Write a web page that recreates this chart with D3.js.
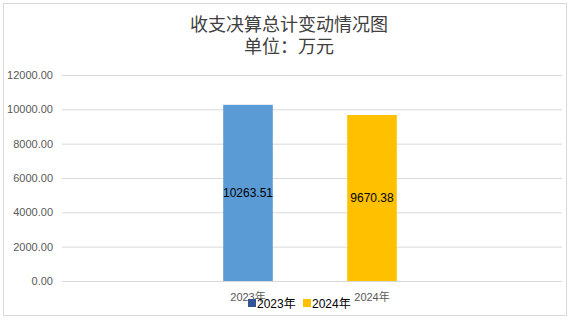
<!DOCTYPE html>
<html>
<head>
<meta charset="utf-8">
<script src="https://cdn.jsdelivr.net/npm/d3@7"></script>
<style>
  body { margin: 0; background: #fff; }
  text { font-family: "Liberation Sans", Arial, "Noto Sans CJK SC", sans-serif; }
</style>
</head>
<body>
<div id="chart"></div>
<script>
// data
const categories = ["", "2023年", "2024年", " "]
const series = ["2023年", "2024年"]
const values = [10263.51, 9670.38]
const yTicks = [0, 2000, 4000, 6000, 8000, 10000, 12000]
const titleLines = ["收支决算总计变动情况图", "单位：万元"]

const svgWidth = 571, svgHeight = 321
const margin = { top: 75, right: 9, bottom: 40, left: 62 }
const width = svgWidth - margin.left - margin.right
const height = svgHeight - margin.top - margin.bottom

const barColors = ["#5B9BD5", "#FFC000"]
const legendColors = ["#2F5597", "#FFC000"]

const svg = d3.select("#chart")
    .append("svg")
    .attr("width", svgWidth)
    .attr("height", svgHeight)

// outer frame
svg.append("rect")
    .attr("x", 3.5).attr("y", 3.5)
    .attr("width", 563).attr("height", 312)
    .attr("fill", "#fff")
    .attr("stroke", "#d9d9d9")

// title
svg.selectAll(".title")
    .data(titleLines)
    .enter()
    .append("text")
    .attr("x", 289)
    .attr("y", (d, i) => 31 + i * 22)
    .attr("text-anchor", "middle")
    .attr("font-size", 18)
    .attr("fill", "#404040")
    .text(d => d)

const chartGroup = svg.append("g")
    .attr("transform", `translate(${margin.left}, ${margin.top})`)

const xScale = d3.scaleBand()
    .domain(categories)
    .range([0, width - 4])
    .paddingInner(0.6)
    .paddingOuter(0.3)

const yScale = d3.scaleLinear()
    .domain([0, 12000])
    .range([height, 0])

// gridlines + y labels
const yAxis = d3.axisLeft(yScale)
    .tickValues(yTicks)
    .tickSize(-width)
    .tickPadding(9)
    .tickFormat(d3.format(".2f"))

chartGroup.append("g")
    .call(yAxis)
    .call(g => g.select(".domain").remove())
    .call(g => g.selectAll(".tick line").attr("stroke", "#d9d9d9"))
    .call(g => g.selectAll(".tick text")
        .attr("font-size", 11)
        .attr("fill", "#595959")
        .attr("x", -9))

// x labels
const xAxis = d3.axisBottom(xScale).tickSize(0).tickPadding(12)
chartGroup.append("g")
    .attr("transform", `translate(0, ${height})`)
    .call(xAxis)
    .call(g => g.select(".domain").remove())
    .call(g => g.selectAll(".tick text")
        .attr("font-size", 11)
        .attr("fill", "#595959"))

// bars
chartGroup.selectAll(".bar")
    .data(values)
    .enter()
    .append("rect")
    .attr("class", "bar")
    .attr("x", (d, i) => xScale(series[i]))
    .attr("y", d => yScale(d))
    .attr("width", xScale.bandwidth())
    .attr("height", d => height - yScale(d))
    .attr("fill", (d, i) => barColors[i])

// bar labels
chartGroup.selectAll(".barLabel")
    .data(values)
    .enter()
    .append("text")
    .attr("class", "barLabel")
    .attr("x", (d, i) => xScale(series[i]) + xScale.bandwidth() / 2)
    .attr("y", d => (yScale(d) + height) / 2)
    .attr("dy", "0.35em")
    .attr("text-anchor", "middle")
    .attr("font-size", 12)
    .attr("fill", "#000")
    .text(d => d.toFixed(2))

// legend
const legend = svg.append("g")
    .attr("transform", "translate(248, 299)")
const legendX = [0, 55]
series.forEach((s, i) => {
    legend.append("rect")
        .attr("x", legendX[i]).attr("y", 0)
        .attr("width", 8).attr("height", 8)
        .attr("fill", legendColors[i])
    legend.append("text")
        .attr("x", legendX[i] + 9).attr("y", 8.5)
        .attr("font-size", 12)
        .attr("fill", "#000")
        .text(s)
})
</script>
</body>
</html>
